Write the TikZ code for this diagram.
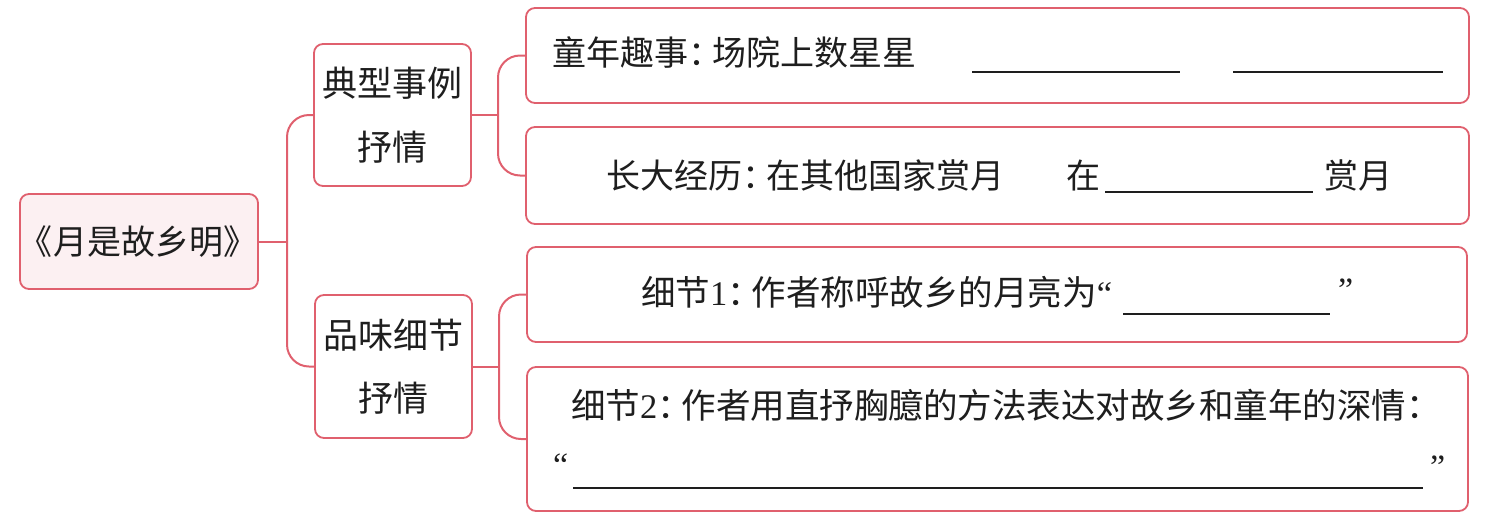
\documentclass[tikz,border=0pt]{standalone}
\usepackage{fontspec}
\setmainfont{Liberation Serif}
\newfontfamily\cjk{Noto Sans CJK SC}
\definecolor{boxred}{HTML}{E0606E}
\definecolor{rootfill}{HTML}{FCF0F2}
\definecolor{ink}{HTML}{1E1E1E}
\newcommand{\cc}{\kern0.5pt：\kern-10.5pt}
\begin{document}
\begin{tikzpicture}[x=1pt,y=-1pt,
  box/.style={draw=boxred, line width=1.8pt, rounded corners=9pt, inner sep=0pt, fill=white},
  conn/.style={draw=boxred, line width=2pt, rounded corners=22pt},
  txt/.style={inner sep=0pt, anchor=base west, text=ink, font=\cjk\fontsize{34}{34}\selectfont},
  wtxt/.style={inner sep=0pt, anchor=base west, text=ink, font=\cjk\fontsize{34.5}{34.5}\selectfont},
  ctxt/.style={inner sep=0pt, anchor=base, text=ink, font=\cjk\fontsize{35}{35}\selectfont},
  lat/.style={inner sep=0pt, anchor=base west, text=ink, font=\fontsize{34}{34}\selectfont},
  blank/.style={line width=1.4pt, ink}]
\useasboundingbox (0,0) rectangle (1488,520);
% boxes
\node[box, fill=rootfill, minimum width=238pt, minimum height=95pt] (root) at (139,241.5) {};
\node[box, minimum width=157pt, minimum height=142pt] (b2) at (392.5,115) {};
\node[box, minimum width=157pt, minimum height=143pt] (b3) at (393.5,366.5) {};
\node[box, minimum width=943pt, minimum height=95pt] (r1) at (997.5,55.5) {};
\node[box, minimum width=943pt, minimum height=97pt] (r2) at (997.5,175.5) {};
\node[box, minimum width=940pt, minimum height=95pt] (r3) at (997,294.5) {};
\node[box, minimum width=941pt, minimum height=144pt] (r4) at (997.5,439) {};
% junctions
\coordinate (j1) at (287,241.5);
\coordinate (j2) at (498,115);
\coordinate (j3) at (499,366.5);
% connectors
\draw[conn] (root.east) -- (j1);
\draw[conn] (b2.west) -| (j1) |- (b3.west);
\draw[conn] (b2.east) -- (j2);
\draw[conn] (r1.west) -| (j2) |- (r2.west);
\draw[conn] (b3.east) -- (j3);
\draw[conn] (r3.west) -| (j3) |- (r4.west);
% texts
\node[inner sep=0pt, anchor=base, text=ink, font=\cjk\fontsize{34}{34}\selectfont] (roott) at (138,254) {《月是故乡明》};
\node[ctxt] (b2a) at (392,96) {典型事例};
\node[ctxt] (b2b) at (392,160) {抒情};
\node[ctxt] (b3a) at (393,348) {品味细节};
\node[ctxt] (b3b) at (393,411) {抒情};
\node[txt] (r1t) at (552,65) {童年趣事\cc 场院上数星星};
\draw[blank] (972,72) -- (1180,72);
\draw[blank] (1233,72) -- (1443,72);
\node[txt] (r2t) at (606,188) {长大经历\cc 在其他国家赏月};
\node[txt] (r2z) at (1066,188) {在};
\draw[blank] (1105,192) -- (1313,192);
\node[txt] (r2y) at (1324,188) {赏月};
\node[wtxt] (r3t) at (641,305) {细节{\rmfamily 1}\cc 作者称呼故乡的月亮为{\rmfamily “}};
\draw[blank] (1123,314) -- (1330,314);
\node[lat] (r3q) at (1338,301) {”};
\node[wtxt] (r4t) at (571,418) {细节{\rmfamily 2}\cc 作者用直抒胸臆的方法表达对故乡和童年的深情：};
\node[lat] (r4q1) at (553,476) {“};
\draw[blank] (573,488) -- (1423,488);
\node[lat] (r4q2) at (1430,478) {”};
\end{tikzpicture}
\end{document}
